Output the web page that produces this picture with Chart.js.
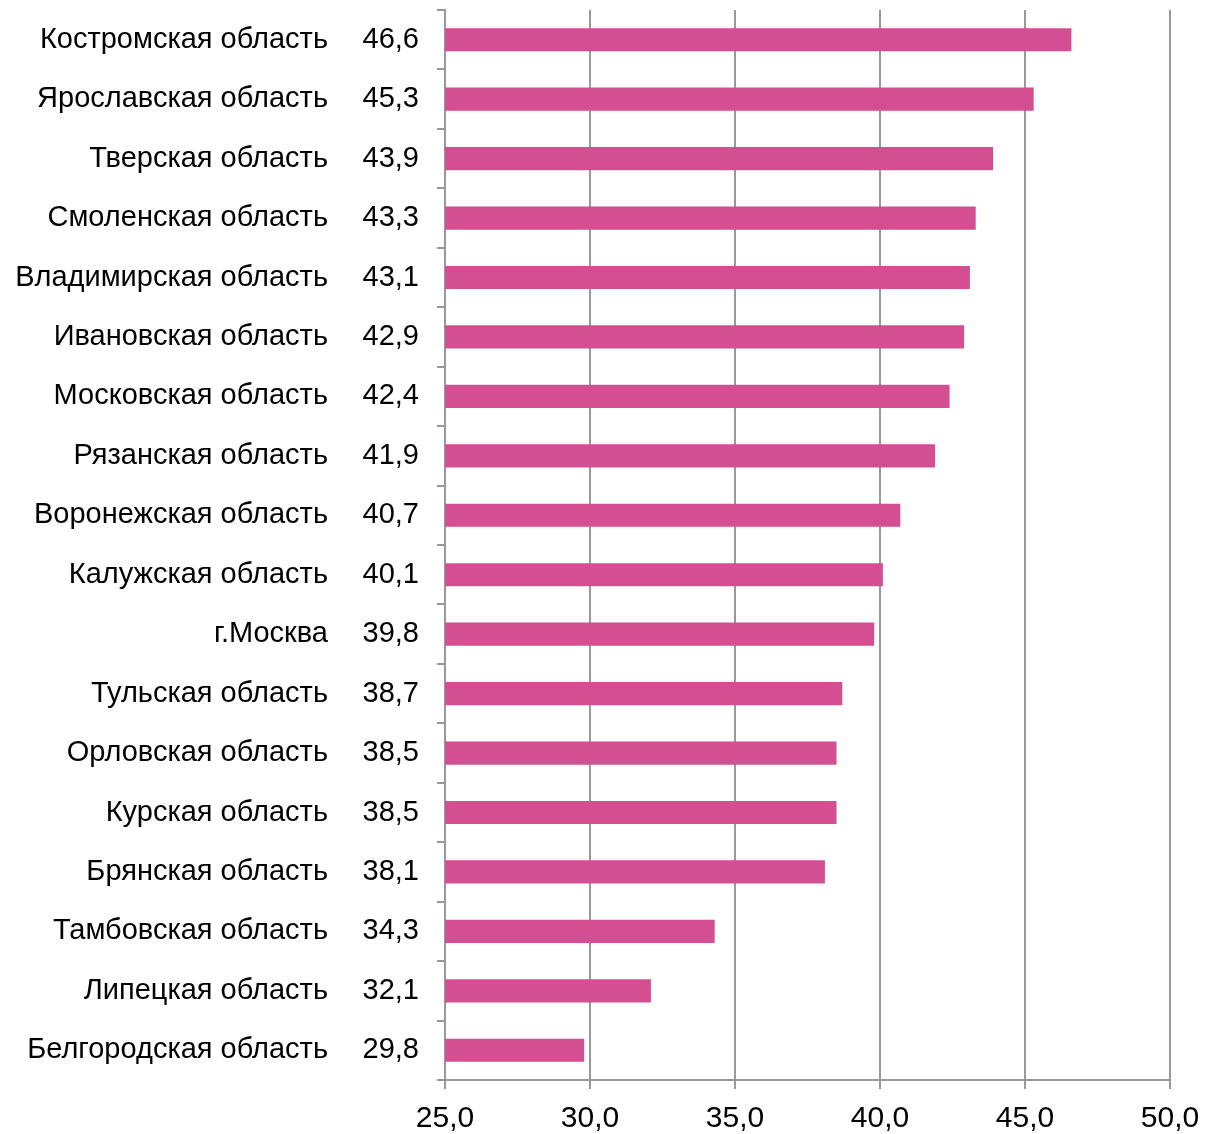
<!DOCTYPE html>
<html>
<head>
<meta charset="utf-8">
<script src="https://cdn.jsdelivr.net/npm/chart.js@4.4.0/dist/chart.umd.min.js"></script>
<style>
  body { margin: 0; background: #fff; }
  #wrap { width: 1206px; height: 1134px; position: relative; }
</style>
</head>
<body>
<div id="wrap"><canvas id="regionsChart"></canvas></div>
<script>
const regions = [
  'Костромская область', 'Ярославская область', 'Тверская область', 'Смоленская область',
  'Владимирская область', 'Ивановская область', 'Московская область', 'Рязанская область',
  'Воронежская область', 'Калужская область', 'г.Москва', 'Тульская область',
  'Орловская область', 'Курская область', 'Брянская область', 'Тамбовская область',
  'Липецкая область', 'Белгородская область'
];
const values = [46.6, 45.3, 43.9, 43.3, 43.1, 42.9, 42.4, 41.9, 40.7, 40.1, 39.8, 38.7, 38.5, 38.5, 38.1, 34.3, 32.1, 29.8];
const xMin = 25;
const xMax = 50;
const xStep = 5;

const fmt = v => Number(v).toFixed(1).replace('.', ',');
const gridGray = '#999999';
const fontFamily = '"Liberation Sans", Arial, sans-serif';

// second label column with the values, placed through the y scale
const valueColumn = {
  id: 'valueColumn',
  afterDraw(chart) {
    const ctx = chart.ctx;
    const y = chart.scales.y;
    ctx.save();
    ctx.font = '29px ' + fontFamily;
    ctx.fillStyle = '#000';
    ctx.textAlign = 'right';
    ctx.textBaseline = 'middle';
    values.forEach((v, i) => {
      ctx.fillText(fmt(v), chart.chartArea.left - 26, y.getPixelForValue(i));
    });
    ctx.restore();
  }
};

new Chart(document.getElementById('regionsChart').getContext('2d'), {
  type: 'bar',
  data: {
    labels: regions,
    datasets: [{
      data: values,
      backgroundColor: '#d44f91',
      borderWidth: 0,
      barPercentage: 0.78,
      categoryPercentage: 0.5
    }]
  },
  options: {
    indexAxis: 'y',
    responsive: true,
    maintainAspectRatio: false,
    animation: false,
    layout: { padding: { top: 10, right: 36, left: 0, bottom: 0 } },
    plugins: { legend: { display: false }, tooltip: { enabled: false } },
    scales: {
      x: {
        min: xMin,
        max: xMax,
        afterFit(scale) {
          scale.height = 54;
          scale.paddingLeft = 0;
          scale.paddingRight = 0;
        },
        ticks: {
          stepSize: xStep,
          padding: 12,
          color: '#000',
          font: { family: fontFamily, size: 30 },
          callback: v => fmt(v)
        },
        grid: { color: gridGray, lineWidth: 2, tickLength: 9, drawTicks: true },
        border: { color: gridGray, width: 2 }
      },
      y: {
        afterFit(scale) {
          scale.width = 445;
          scale.paddingTop = 0;
          scale.paddingBottom = 0;
        },
        ticks: {
          padding: 109,
          color: '#000',
          font: { family: fontFamily, size: 29 }
        },
        grid: { offset: true, drawOnChartArea: false, color: gridGray, lineWidth: 2, tickLength: 8 },
        border: { color: gridGray, width: 2 }
      }
    }
  },
  plugins: [valueColumn]
});
</script>
</body>
</html>
